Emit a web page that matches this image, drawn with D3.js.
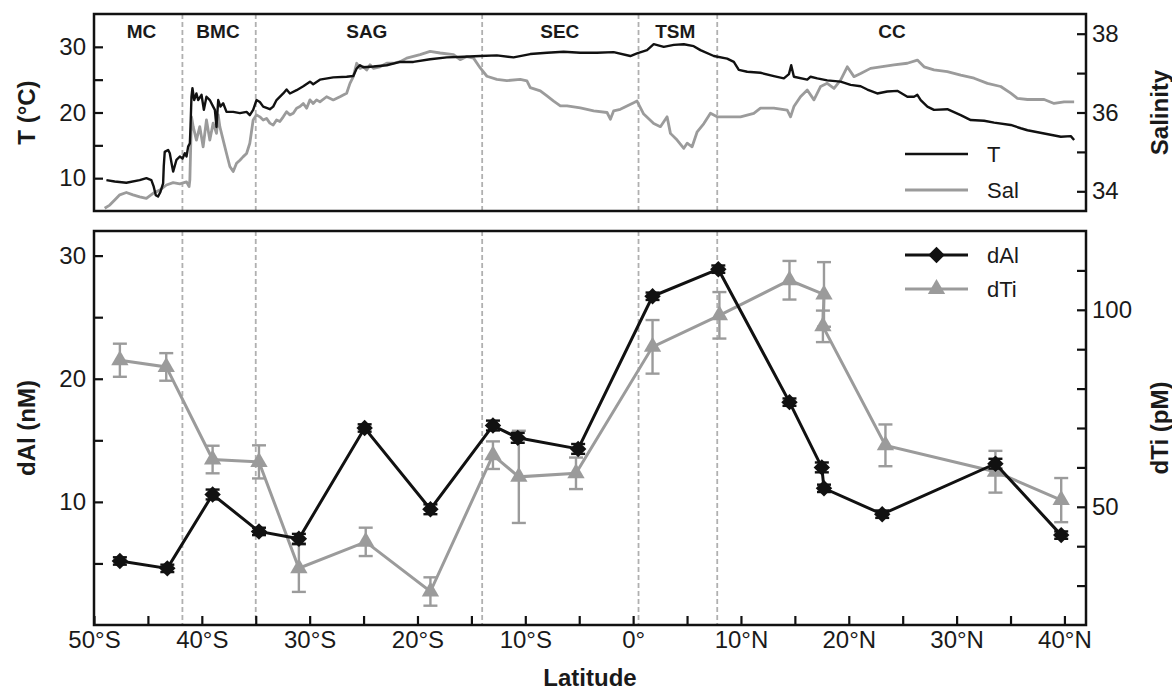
<!DOCTYPE html>
<html>
<head>
<meta charset="utf-8">
<script src="https://cdn.jsdelivr.net/npm/d3@7"></script>
<style>
  body { margin: 0; background: #fff; }
  svg text { font-family: Arial, "Liberation Sans", Helvetica, sans-serif; fill: #1a1a1a; }
</style>
</head>
<body>
<div id="chart"></div>
<script>
// ---- data ----
const regionNames = ["MC", "BMC", "SAG", "SEC", "TSM", "CC"];
const regionLabelLat = [-45.6, -38.5, -24.7, -6.8, 3.9, 24.0];
const regionBounds = [-41.8, -35.0, -14.0, 0.5, 7.8];

// underway temperature (lat, °C)
const tempTrack = [
  [-48.85, 9.7], [-48.08, 9.5], [-47.0, 9.3], [-45.76, 9.7], [-45.14, 10.0], [-44.68, 9.7],
  [-44.46, 8.7], [-44.27, 7.4], [-44.06, 7.2], [-43.84, 7.9], [-43.59, 9.2], [-43.53, 11.8],
  [-43.44, 14.0], [-43.13, 14.3], [-42.97, 13.8], [-42.81, 12.3], [-42.66, 11.0], [-42.35, 12.8],
  [-42.04, 13.3], [-41.79, 13.0], [-41.58, 13.8], [-41.42, 13.3], [-41.27, 14.8], [-41.11, 15.3],
  [-41.05, 17.8], [-40.96, 22.4], [-40.87, 23.7], [-40.71, 21.9], [-40.5, 22.9], [-40.34, 21.9],
  [-40.03, 22.7], [-39.81, 20.4], [-39.57, 22.4], [-39.26, 21.9], [-38.95, 20.9], [-38.79, 20.4],
  [-38.64, 17.8], [-38.48, 21.9], [-38.27, 20.9], [-38.02, 21.4], [-37.71, 20.1], [-37.09, 20.1],
  [-36.47, 19.9], [-35.85, 20.1], [-35.55, 19.6], [-35.24, 20.4], [-34.93, 21.9], [-34.62, 21.6],
  [-34.31, 20.9], [-33.69, 20.5], [-33.38, 20.9], [-33.07, 21.9], [-32.45, 22.9], [-32.14, 23.5],
  [-31.83, 22.9], [-31.21, 23.4], [-30.59, 24.0], [-29.97, 24.7], [-29.67, 24.3], [-29.05, 25.0],
  [-27.81, 25.35], [-26.57, 25.45], [-25.95, 25.55], [-25.64, 26.7], [-25.33, 27.2], [-25.02, 26.9],
  [-24.09, 27.0], [-22.85, 27.2], [-21.61, 27.7], [-20.38, 27.7], [-18.83, 28.1], [-17.28, 28.4],
  [-15.73, 28.5], [-14.18, 28.6], [-12.64, 28.7], [-11.09, 28.4], [-9.54, 28.9], [-7.99, 29.1],
  [-6.45, 29.25], [-4.9, 29.1], [-3.35, 29.1], [-1.81, 29.2], [-0.26, 28.6], [0.36, 29.0],
  [1.29, 29.5], [1.91, 30.4], [2.84, 30.0], [3.77, 30.3], [4.7, 30.4], [5.62, 30.1],
  [6.24, 29.5], [7.48, 28.6], [8.72, 28.2], [9.34, 27.7], [9.8, 26.5], [10.58, 26.2],
  [11.81, 26.05], [13.05, 25.55], [13.98, 25.2], [14.45, 25.85], [14.66, 27.2], [14.91, 25.45],
  [16.15, 25.0], [16.46, 25.45], [17.08, 25.2], [18.0, 24.9], [19.24, 24.7], [20.17, 24.2],
  [21.1, 24.0], [21.72, 23.5], [22.64, 22.9], [23.57, 23.2], [24.5, 23.3], [25.43, 22.4],
  [26.05, 22.4], [26.36, 22.7], [26.67, 21.9], [27.29, 20.9], [27.9, 20.4], [29.14, 20.5],
  [30.38, 19.6], [31.31, 18.85], [32.55, 18.75], [33.48, 18.45], [35.02, 18.1], [35.95, 17.6],
  [36.57, 17.3], [38.12, 16.8], [39.67, 16.3], [40.59, 16.4], [40.9, 15.8]
];

// underway salinity (lat, psu)
const salTrack = [
  [-49.01, 33.57], [-48.54, 33.65], [-48.08, 33.78], [-47.61, 33.91], [-47.0, 33.97], [-46.38, 33.91],
  [-45.76, 33.86], [-45.14, 33.82], [-44.52, 33.95], [-43.9, 34.03], [-43.28, 34.16], [-42.66, 34.22],
  [-42.04, 34.19], [-41.42, 34.24], [-41.18, 34.12], [-41.11, 34.29], [-40.96, 35.89], [-40.8, 35.64],
  [-40.5, 35.3], [-40.19, 35.64], [-39.88, 35.13], [-39.57, 35.81], [-39.26, 35.3], [-38.95, 35.73],
  [-38.64, 35.47], [-38.48, 35.94], [-38.33, 35.64], [-38.02, 35.3], [-37.71, 34.96], [-37.4, 34.63],
  [-37.09, 34.5], [-36.78, 34.71], [-36.47, 34.79], [-36.16, 34.88], [-35.85, 34.96], [-35.55, 35.22],
  [-35.24, 35.81], [-34.93, 35.94], [-34.62, 35.89], [-34.31, 35.81], [-34.0, 35.85], [-33.69, 35.73],
  [-33.38, 35.68], [-33.07, 35.81], [-32.76, 35.77], [-32.45, 35.89], [-32.14, 36.02], [-31.83, 35.94],
  [-31.52, 35.98], [-31.21, 36.11], [-30.9, 36.15], [-30.59, 36.23], [-30.28, 36.11], [-29.97, 36.32],
  [-29.67, 36.23], [-29.36, 36.32], [-29.05, 36.27], [-28.43, 36.4], [-27.81, 36.32], [-27.19, 36.4],
  [-26.57, 36.49], [-26.26, 36.74], [-25.95, 36.91], [-25.64, 37.25], [-25.33, 37.12], [-25.02, 37.16],
  [-24.71, 37.08], [-24.4, 37.21], [-24.09, 37.12], [-23.47, 37.16], [-22.85, 37.25], [-22.23, 37.25],
  [-21.61, 37.29], [-21.0, 37.38], [-19.76, 37.47], [-18.83, 37.55], [-17.9, 37.51], [-16.66, 37.47],
  [-16.04, 37.34], [-15.42, 37.42], [-14.8, 37.38], [-14.18, 37.13], [-13.56, 36.92], [-12.64, 36.84],
  [-11.71, 36.81], [-10.47, 36.84], [-9.85, 36.8], [-9.54, 36.63], [-8.61, 36.55], [-7.99, 36.42],
  [-7.37, 36.29], [-6.75, 36.17], [-6.13, 36.17], [-4.9, 36.12], [-3.66, 36.04], [-2.42, 36.0],
  [-2.11, 35.83], [-1.81, 36.04], [-1.19, 36.08], [0.05, 36.25], [0.36, 36.29], [0.98, 35.96],
  [1.91, 35.72], [2.53, 35.64], [3.15, 35.89], [3.46, 35.47], [4.08, 35.3], [4.7, 35.09],
  [5.01, 35.22], [5.47, 35.13], [5.94, 35.51], [6.56, 35.72], [7.17, 35.98], [7.79, 35.89],
  [8.72, 35.89], [9.96, 35.89], [11.19, 35.98], [11.81, 36.11], [13.05, 36.11], [14.29, 36.06],
  [14.6, 35.89], [14.91, 36.15], [15.52, 36.4], [16.15, 36.57], [16.77, 36.32], [17.39, 36.66],
  [18.0, 36.74], [18.63, 36.61], [19.24, 36.82], [19.86, 37.16], [20.48, 36.91], [21.1, 36.99],
  [22.02, 37.12], [22.95, 37.16], [24.19, 37.21], [25.43, 37.25], [26.36, 37.33], [26.98, 37.16],
  [27.9, 37.08], [29.14, 37.04], [30.38, 36.95], [31.62, 36.87], [32.86, 36.74], [34.09, 36.66],
  [35.02, 36.49], [35.64, 36.36], [36.57, 36.33], [38.12, 36.33], [39.04, 36.23], [39.97, 36.27],
  [40.9, 36.27]
];

// surface dissolved Al (nM)
const latAl = [-47.6, -43.2, -39.0, -34.7, -31.0, -24.9, -18.8, -13.0, -10.7, -5.1, 1.8, 7.9, 14.5, 17.5, 17.7, 23.1, 33.6, 39.7];
const valAl = [5.2, 4.6, 10.6, 7.6, 7.0, 16.0, 9.4, 16.2, 15.2, 14.3, 26.7, 28.9, 18.1, 12.8, 11.1, 9.0, 13.1, 7.3];
const errAl = [0.3, 0.3, 0.4, 0.3, 0.4, 0.3, 0.4, 0.4, 0.4, 0.4, 0.3, 0.3, 0.3, 0.4, 0.3, 0.3, 0.4, 0.3];

// surface dissolved Ti (pM)
const latTi = [-47.6, -43.3, -39.0, -34.7, -31.0, -24.8, -18.8, -13.0, -10.6, -5.3, 1.8, 8.0, 14.5, 17.7, 17.6, 23.4, 33.6, 39.7];
const valTi = [87.2, 85.5, 62.0, 61.4, 34.4, 41.1, 28.5, 63.1, 57.6, 58.5, 90.6, 98.6, 107.5, 103.9, 95.8, 65.6, 58.9, 51.7];
const errTi = [4.2, 3.5, 3.5, 4.2, 6.0, 3.6, 3.6, 3.5, 11.7, 4.0, 6.8, 5.9, 4.9, 8.2, 4.0, 5.3, 5.3, 5.6];

const latTicks = d3.range(-50, 41, 5);
const tTicks = [10, 15, 20, 25, 30];
const salTicks = [34, 35, 36, 37, 38];
const alTicks = [5, 10, 15, 20, 25, 30];
const tiTicks = [30, 40, 50, 60, 70, 80, 90, 100, 110];

// ---- layout ----
const W = 1172, H = 690;
const left = 94, right = 1086;
const top1 = 14, bot1 = 211;
const top2 = 231, bot2 = 625;

const black = "#111", grey = "#9b9b9b";

const x = d3.scaleLinear().domain([-50, 42]).range([left, right]);
const yT = d3.scaleLinear().domain([5, 35]).range([bot1, top1]);
const ySal = d3.scaleLinear().domain([33.5, 38.5]).range([bot1, top1]);
const yAl = d3.scaleLinear().domain([0, 32]).range([bot2, top2]);
const yTi = d3.scaleLinear().domain([20, 120]).range([bot2, top2]);

const svg = d3.select("#chart").append("svg")
  .attr("width", W).attr("height", H);

svg.append("rect").attr("width", W).attr("height", H).attr("fill", "#fff");

// clip for the top panel
svg.append("clipPath").attr("id", "clip1")
  .append("rect").attr("x", left).attr("y", top1).attr("width", right - left).attr("height", bot1 - top1);

// dashed region boundaries, both panels
[[top1, bot1], [top2, bot2]].forEach(([a, b]) => {
  svg.append("g").selectAll("line").data(regionBounds).enter().append("line")
    .attr("x1", d => x(d)).attr("x2", d => x(d))
    .attr("y1", a).attr("y2", b)
    .attr("stroke", "#b0b0b0").attr("stroke-width", 1.8)
    .attr("stroke-dasharray", "5,3");
});

// region names
svg.append("g").selectAll("text").data(regionNames).enter().append("text")
  .attr("x", (d, i) => x(regionLabelLat[i]))
  .attr("y", 38)
  .attr("text-anchor", "middle")
  .attr("font-size", 19).attr("font-weight", "bold")
  .text(d => d);

// ---- top panel lines ----
const gTop = svg.append("g").attr("clip-path", "url(#clip1)");

gTop.append("path").datum(salTrack)
  .attr("d", d3.line().x(d => x(d[0])).y(d => ySal(d[1])))
  .attr("fill", "none").attr("stroke", grey).attr("stroke-width", 2.8)
  .attr("stroke-linejoin", "round");

gTop.append("path").datum(tempTrack)
  .attr("d", d3.line().x(d => x(d[0])).y(d => yT(d[1])))
  .attr("fill", "none").attr("stroke", black).attr("stroke-width", 2.4)
  .attr("stroke-linejoin", "round");

// ---- bottom panel ----
const ti = latTi.map((d, i) => ({ lat: d, v: valTi[i], e: errTi[i] }));
const al = latAl.map((d, i) => ({ lat: d, v: valAl[i], e: errAl[i] }));

function errorBars(g, data, y, color, width) {
  const eb = g.append("g").selectAll("g").data(data).enter().append("g")
    .attr("stroke", color).attr("stroke-width", width);
  eb.append("line")
    .attr("x1", d => x(d.lat)).attr("x2", d => x(d.lat))
    .attr("y1", d => y(d.v - d.e)).attr("y2", d => y(d.v + d.e));
  eb.append("line")
    .attr("x1", d => x(d.lat) - 7).attr("x2", d => x(d.lat) + 7)
    .attr("y1", d => y(d.v - d.e)).attr("y2", d => y(d.v - d.e));
  eb.append("line")
    .attr("x1", d => x(d.lat) - 7).attr("x2", d => x(d.lat) + 7)
    .attr("y1", d => y(d.v + d.e)).attr("y2", d => y(d.v + d.e));
}

const gBot = svg.append("g");

// dTi
gBot.append("path").datum(ti)
  .attr("d", d3.line().x(d => x(d.lat)).y(d => yTi(d.v)))
  .attr("fill", "none").attr("stroke", grey).attr("stroke-width", 3);
errorBars(gBot, ti, yTi, grey, 2.4);
const tri = d3.symbol().type(d3.symbolTriangle).size(130);
gBot.append("g").selectAll("path").data(ti).enter().append("path")
  .attr("d", tri)
  .attr("transform", d => `translate(${x(d.lat)},${yTi(d.v)})`)
  .attr("fill", grey);

// dAl
gBot.append("path").datum(al)
  .attr("d", d3.line().x(d => x(d.lat)).y(d => yAl(d.v)))
  .attr("fill", "none").attr("stroke", black).attr("stroke-width", 3);
errorBars(gBot, al, yAl, black, 2.4);
const dia = d3.symbol().type(d3.symbolSquare).size(135);
gBot.append("g").selectAll("path").data(al).enter().append("path")
  .attr("d", dia)
  .attr("transform", d => `translate(${x(d.lat)},${yAl(d.v)}) rotate(45)`)
  .attr("fill", black);

// ---- axes ----
const fs = 24;
function styleAxis(g) {
  g.select(".domain").remove();
  g.selectAll(".tick line").attr("stroke", black).attr("stroke-width", 2.2);
  g.selectAll(".tick text").attr("font-size", fs).attr("fill", "#1a1a1a")
    .attr("font-family", "Arial, 'Liberation Sans', sans-serif");
}

const only = vals => d => vals.includes(d) ? d : "";

svg.append("g").attr("transform", `translate(${left},0)`)
  .call(d3.axisLeft(yT).tickValues(tTicks).tickFormat(only([10, 20, 30])).tickSize(-9).tickPadding(8))
  .call(styleAxis);

svg.append("g").attr("transform", `translate(${right},0)`)
  .call(d3.axisRight(ySal).tickValues(salTicks).tickFormat(only([34, 36, 38])).tickSize(-9).tickPadding(6))
  .call(styleAxis);

svg.append("g").attr("transform", `translate(${left},0)`)
  .call(d3.axisLeft(yAl).tickValues(alTicks).tickFormat(only([10, 20, 30])).tickSize(-9).tickPadding(8))
  .call(styleAxis);

svg.append("g").attr("transform", `translate(${right},0)`)
  .call(d3.axisRight(yTi).tickValues(tiTicks).tickFormat(only([50, 100])).tickSize(-9).tickPadding(6))
  .call(styleAxis);

const latFmt = d => d % 10 !== 0 ? "" : d < 0 ? `${-d}°S` : d > 0 ? `${d}°N` : "0°";
svg.append("g").attr("transform", `translate(0,${bot2})`)
  .call(d3.axisBottom(x).tickValues(latTicks).tickFormat(latFmt).tickSize(-9).tickPadding(6))
  .call(styleAxis);

// panel frames
[[top1, bot1], [top2, bot2]].forEach(([a, b]) => {
  svg.append("rect")
    .attr("x", left).attr("y", a).attr("width", right - left).attr("height", b - a)
    .attr("fill", "none").attr("stroke", black).attr("stroke-width", 2.5);
});

// axis titles
const tfs = 24;
function vTitle(txt, cx, cy) {
  svg.append("text")
    .attr("transform", `translate(${cx},${cy}) rotate(-90)`)
    .attr("text-anchor", "middle").attr("dominant-baseline", "central")
    .attr("font-size", tfs).attr("font-weight", "bold")
    .text(txt);
}
vTitle("T (°C)", 26, (top1 + bot1) / 2);
vTitle("Salinity", 1159, (top1 + bot1) / 2);
vTitle("dAl (nM)", 26, (top2 + bot2) / 2);
vTitle("dTi (pM)", 1159, (top2 + bot2) / 2);

svg.append("text")
  .attr("x", (left + right) / 2).attr("y", 686)
  .attr("text-anchor", "middle")
  .attr("font-size", tfs).attr("font-weight", "bold")
  .text("Latitude");

// ---- legends ----
const lx1 = 905, lx2 = 968, ltx = 987;
const topLeg = [["T", black, 2.4, 154], ["Sal", grey, 2.8, 190]];
topLeg.forEach(([name, c, w, ly]) => {
  svg.append("line").attr("x1", lx1).attr("x2", lx2).attr("y1", ly).attr("y2", ly)
    .attr("stroke", c).attr("stroke-width", w);
  svg.append("text").attr("x", ltx).attr("y", ly).attr("dominant-baseline", "central")
    .attr("font-size", 22).text(name);
});

const botLeg = [["dAl", black, dia, 45, 255], ["dTi", grey, tri, 0, 289]];
botLeg.forEach(([name, c, sym, rot, ly]) => {
  svg.append("line").attr("x1", lx1).attr("x2", lx2).attr("y1", ly).attr("y2", ly)
    .attr("stroke", c).attr("stroke-width", 3);
  svg.append("path").attr("d", sym)
    .attr("transform", `translate(${(lx1 + lx2) / 2},${ly}) rotate(${rot})`)
    .attr("fill", c);
  svg.append("text").attr("x", ltx).attr("y", ly).attr("dominant-baseline", "central")
    .attr("font-size", 22).text(name);
});
</script>
</body>
</html>
